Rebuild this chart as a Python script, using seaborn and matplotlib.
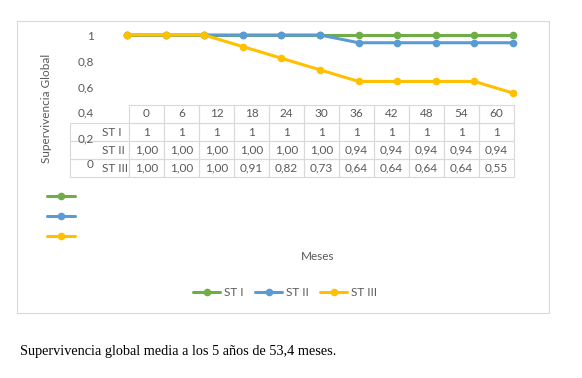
import pandas as pd
import matplotlib
matplotlib.use('Agg')
import matplotlib.pyplot as plt
import seaborn as sns
from matplotlib.lines import Line2D
from matplotlib.patches import Rectangle

# Datos
meses = [0, 6, 12, 18, 24, 30, 36, 42, 48, 54, 60]
st_i = [1, 1, 1, 1, 1, 1, 1, 1, 1, 1, 1]
st_ii = [1.00, 1.00, 1.00, 1.00, 1.00, 1.00, 0.94, 0.94, 0.94, 0.94, 0.94]
st_iii = [1.00, 1.00, 1.00, 0.91, 0.82, 0.73, 0.64, 0.64, 0.64, 0.64, 0.55]
series = ['ST I', 'ST II', 'ST III']
colores = ['#70AD47', '#5B9BD5', '#FFC000']
y_ticks = [0, 0.2, 0.4, 0.6, 0.8, 1]
y_labels = ['0', '0,2', '0,4', '0,6', '0,8', '1']
titulo_y = 'Supervivencia Global'
titulo_x = 'Meses'
pie = 'Supervivencia global media a los 5 años de 53,4 meses.'

df = pd.DataFrame({
    'Meses': meses * 3,
    'valor': st_i + st_ii + st_iii,
    'serie': [s for s in series for _ in meses],
})

sns.set_theme(style='white')
plt.rcParams['font.family'] = ['Lato', 'DejaVu Sans']
gris = '#595959'
borde = '#d9d9d9'
fs = 8.5

W, H = 582, 378
fig = plt.figure(figsize=(W / 100, H / 100), dpi=100)


def px(x0, y0, x1, y1):
    # caja en pixeles (origen arriba-izquierda) -> fraccion de figura
    return [x0 / W, 1 - y1 / H, (x1 - x0) / W, (y1 - y0) / H]


# capa de fondo para marco, tabla y textos
bg = fig.add_axes([0, 0, 1, 1])
bg.axis('off')
bg.set_xlim(0, W)
bg.set_ylim(H, 0)
bg.add_patch(Rectangle((17, 21), 532, 292, fill=False, ec=borde, lw=0.8))

# grafico de lineas
ax = fig.add_axes(px(127, 35, 513, 164))
sns.lineplot(data=df, x='Meses', y='valor', hue='serie', hue_order=series,
             palette=dict(zip(series, colores)), marker='o', markersize=5.5,
             markeredgewidth=0, linewidth=2.2, errorbar=None, legend=False, ax=ax)
for ln in ax.lines:
    ln.set_clip_on(False)
ax.set_xlim(0, 60)
ax.set_ylim(0, 1)
ax.set_xticks([])
ax.set_yticks(y_ticks, y_labels)
ax.tick_params(axis='y', length=0, pad=24, labelsize=fs, labelcolor=gris)
ax.set_xlabel('')
ax.set_ylabel('')
for s in ax.spines.values():
    s.set_visible(False)
ax.patch.set_alpha(0)

bg.text(47, 108, titulo_y, rotation=90, ha='center', va='center', fontsize=fs, color=gris)
bg.text(318, 257, titulo_x, ha='center', va='center', fontsize=fs, color=gris)

# tabla de datos
filas = [[''] + [str(m) for m in meses],
         [series[0]] + [f'{v:g}' for v in st_i],
         [series[1]] + [f'{v:.2f}'.replace('.', ',') for v in st_ii],
         [series[2]] + [f'{v:.2f}'.replace('.', ',') for v in st_iii]]
tab = bg.table(cellText=filas, cellLoc='center',
               colWidths=[59 / 444] + [35 / 444] * len(meses),
               bbox=[70 / W, 1 - 177 / H, 444 / W, 72 / H])
tab.auto_set_font_size(False)
tab.set_fontsize(fs)
for (r, c), cell in tab.get_celld().items():
    cell.set_edgecolor(borde)
    cell.set_facecolor('none')
    cell.set_linewidth(0.8)
    cell.get_text().set_color(gris)
    if c == 0:
        cell.get_text().set_ha('left')
        cell.PAD = 0.54
        cell._loc = 'left'
tab[0, 0].visible_edges = ''

# claves de leyenda junto a la tabla
claves = [Line2D([], [], color=c, lw=2.2, marker='o', ms=5.5, mew=0) for c in colores]
fig.legend(claves, ['', '', ''], loc='center', bbox_to_anchor=(61 / W, 1 - 217 / H),
           frameon=False, fontsize=7, handlelength=2.9, handletextpad=0, labelspacing=1.1,
           borderpad=0)

# leyenda inferior
leg = fig.legend(claves, series, loc='center', ncol=3, bbox_to_anchor=(285 / W, 1 - 293 / H),
                 frameon=False, fontsize=fs, handlelength=2.3, handletextpad=0.3,
                 columnspacing=1.0)
for t in leg.get_texts():
    t.set_color(gris)

bg.text(20, 352, pie, family='Liberation Serif', fontsize=10.3, va='center', color='black')

fig.savefig('out.png', dpi=100)
